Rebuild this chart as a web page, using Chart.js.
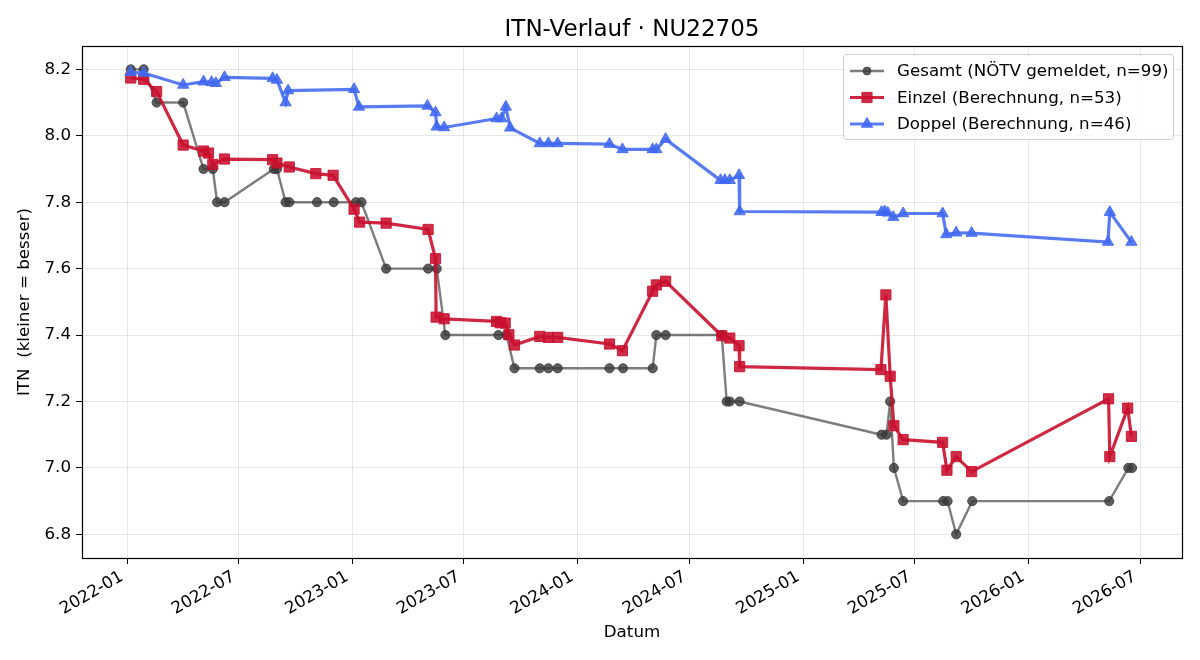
<!DOCTYPE html>
<html lang="de">
  <head>
    <meta charset="UTF-8" />
    <title>ITN-Verlauf · NU22705</title>
    <script src="https://cdn.jsdelivr.net/npm/chart.js"></script>
    <style>
      html, body { margin: 0; padding: 0; background: #fff; }
      canvas { display: block; }
    </style>
  </head>
  <body>
    <canvas id="itnChart" width="1200" height="660"></canvas>

    <script>
      // Gesamt (NÖTV gemeldet)
      const gesamtDates = [
        "2022-01-07", "2022-01-28", "2022-02-18", "2022-04-02", "2022-05-05", "2022-05-20",
        "2022-05-27", "2022-06-08", "2022-08-27", "2022-09-01", "2022-09-15", "2022-09-21",
        "2022-11-05", "2022-12-02", "2023-01-07", "2023-01-16", "2023-02-25", "2023-05-04",
        "2023-05-18", "2023-06-01", "2023-08-26", "2023-09-08", "2023-09-21", "2023-11-01",
        "2023-11-15", "2023-11-30", "2024-02-22", "2024-03-15", "2024-05-02", "2024-05-08",
        "2024-05-23", "2024-08-22", "2024-08-30", "2024-09-04", "2024-09-20", "2025-05-08",
        "2025-05-16", "2025-05-22", "2025-05-28", "2025-06-12", "2025-08-16", "2025-08-23",
        "2025-09-06", "2025-10-02", "2026-05-12", "2026-06-12", "2026-06-18"
      ];
      const gesamtValues = [
        8.2, 8.2, 8.1, 8.1, 7.9, 7.9,
        7.8, 7.8, 7.9, 7.9, 7.8, 7.8,
        7.8, 7.8, 7.8, 7.8, 7.6, 7.6,
        7.6, 7.4, 7.4, 7.4, 7.3, 7.3,
        7.3, 7.3, 7.3, 7.3, 7.3, 7.4,
        7.4, 7.4, 7.2, 7.2, 7.2, 7.1,
        7.1, 7.2, 7.0, 6.9, 6.9, 6.9,
        6.8, 6.9, 6.9, 7.0, 7.0
      ];

      // Einzel (Berechnung)
      const einzelDates = [
        "2022-01-07", "2022-01-28", "2022-02-18", "2022-04-02", "2022-05-05", "2022-05-13",
        "2022-05-20", "2022-06-08", "2022-08-25", "2022-09-01", "2022-09-21", "2022-11-03",
        "2022-12-01", "2023-01-04", "2023-01-13", "2023-02-25", "2023-05-04", "2023-05-16",
        "2023-05-17", "2023-05-30", "2023-08-23", "2023-08-29", "2023-09-06", "2023-09-12",
        "2023-09-21", "2023-11-01", "2023-11-15", "2023-11-30", "2024-02-22", "2024-03-14",
        "2024-05-02", "2024-05-08", "2024-05-23", "2024-08-22", "2024-09-04", "2024-09-19",
        "2024-09-20", "2025-05-07", "2025-05-15", "2025-05-22", "2025-05-28", "2025-06-12",
        "2025-08-15", "2025-08-22", "2025-09-06", "2025-10-01", "2026-05-11", "2026-05-13",
        "2026-06-11", "2026-06-17"
      ];
      const einzelValues = [
        8.174, 8.170, 8.133, 7.972, 7.954, 7.948,
        7.914, 7.930, 7.928, 7.918, 7.906, 7.886,
        7.881, 7.779, 7.740, 7.737, 7.718, 7.630,
        7.454, 7.449, 7.441, 7.437, 7.436, 7.401,
        7.370, 7.396, 7.393, 7.393, 7.373, 7.353,
        7.532, 7.551, 7.562, 7.398, 7.391, 7.368,
        7.305, 7.296, 7.521, 7.276, 7.127, 7.085,
        7.077, 6.993, 7.034, 6.989, 7.208, 7.034,
        7.180, 7.095
      ];

      // Doppel (Berechnung)
      const doppelDates = [
        "2022-01-07", "2022-01-28", "2022-04-02", "2022-05-05", "2022-05-18", "2022-05-25",
        "2022-06-08", "2022-08-25", "2022-09-01", "2022-09-15", "2022-09-19", "2023-01-04",
        "2023-01-12", "2023-05-03", "2023-05-16", "2023-05-18", "2023-05-30", "2023-08-23",
        "2023-08-31", "2023-09-07", "2023-09-14", "2023-11-01", "2023-11-15", "2023-11-30",
        "2024-02-22", "2024-03-14", "2024-05-02", "2024-05-08", "2024-05-23", "2024-08-20",
        "2024-08-27", "2024-09-04", "2024-09-19", "2024-09-20", "2025-05-08", "2025-05-13",
        "2025-05-18", "2025-05-27", "2025-06-12", "2025-08-15", "2025-08-21", "2025-09-06",
        "2025-10-01", "2026-05-10", "2026-05-13", "2026-06-17"
      ];
      const doppelValues = [
        8.191, 8.189, 8.153, 8.163, 8.161, 8.158,
        8.176, 8.173, 8.168, 8.100, 8.136, 8.140,
        8.087, 8.090, 8.070, 8.027, 8.025, 8.052,
        8.052, 8.087, 8.024, 7.977, 7.977, 7.977,
        7.975, 7.959, 7.959, 7.959, 7.990, 7.866,
        7.866, 7.866, 7.881, 7.772, 7.770, 7.772,
        7.768, 7.755, 7.766, 7.766, 7.703, 7.708,
        7.707, 7.680, 7.770, 7.680
      ];

      // Achsen
      const xTickDates = [
        "2022-01-01", "2022-07-01", "2023-01-01", "2023-07-01", "2024-01-01",
        "2024-07-01", "2025-01-01", "2025-07-01", "2026-01-01", "2026-07-01"
      ];
      const yTicks = [6.8, 7.0, 7.2, 7.4, 7.6, 7.8, 8.0, 8.2];
      const xRange = ["2021-10-20", "2026-09-07"];
      const yRange = [6.7288, 8.2703];

      const seriesLabels = [
        "Gesamt (NÖTV gemeldet, n=99)",
        "Einzel (Berechnung, n=53)",
        "Doppel (Berechnung, n=46)",
      ];

      const FONT = "'DejaVu Sans', 'Noto Sans', sans-serif";
      const FS = 16.7;

      function toPoints(dates, values) {
        return dates.map((d, i) => ({ x: Date.parse(d), y: values[i] }));
      }

      function fmtMonth(ms) {
        const d = new Date(ms);
        const m = String(d.getUTCMonth() + 1).padStart(2, "0");
        return d.getUTCFullYear() + "-" + m;
      }

      const styles = [
        { line: "rgba(64,64,64,0.68)", point: "rgba(58,58,58,0.82)", shape: "circle", r: 4.6, w: 2.4 },
        { line: "rgba(200,16,46,0.9)", point: "rgba(200,16,46,0.88)", shape: "rect", r: 7.2, w: 3.2 },
        { line: "rgba(65,105,240,0.88)", point: "rgba(65,105,240,0.88)", shape: "triangle", r: 6.5, w: 3.2 },
      ];

      // Rahmen, Titel und Legende im matplotlib-Stil
      const decorPlugin = {
        id: "decor",
        afterDraw(chart) {
          const ctx = chart.ctx;
          const a = chart.chartArea;
          ctx.save();

          // Rahmen
          ctx.strokeStyle = "#000";
          ctx.lineWidth = 1.2;
          ctx.strokeRect(a.left + 0.5, a.top + 0.5, a.right - a.left, a.bottom - a.top);

          // Titel
          ctx.fillStyle = "#000";
          ctx.font = "23px " + FONT;
          ctx.textAlign = "center";
          ctx.textBaseline = "alphabetic";
          ctx.fillText("ITN-Verlauf · NU22705", (a.left + a.right) / 2, 36);

          // Legende
          const bx = 843, by = 54, bw = 330, bh = 85;
          ctx.fillStyle = "rgba(255,255,255,0.8)";
          ctx.strokeStyle = "#cccccc";
          ctx.lineWidth = 1;
          ctx.beginPath();
          ctx.roundRect(bx + 0.5, by + 0.5, bw, bh, 3);
          ctx.fill();
          ctx.stroke();

          ctx.font = FS + "px " + FONT;
          ctx.textAlign = "left";
          ctx.textBaseline = "middle";
          seriesLabels.forEach((label, i) => {
            const y = 71 + i * 26.5;
            const s = styles[i];
            ctx.strokeStyle = s.line;
            ctx.lineWidth = s.w;
            ctx.beginPath();
            ctx.moveTo(850, y);
            ctx.lineTo(884, y);
            ctx.stroke();
            ctx.fillStyle = s.point;
            ctx.strokeStyle = s.point;
            ctx.lineWidth = 1;
            Chart.helpers.drawPoint(ctx, {
              pointStyle: s.shape,
              radius: s.shape === "circle" ? s.r * 0.85 : s.r,
              rotation: 0,
              borderWidth: 1,
            }, 867, y);
            ctx.fillStyle = "#000";
            ctx.fillText(label, 897, y + 1);
          });

          ctx.restore();
        },
      };

      const datasetsRaw = [
        [gesamtDates, gesamtValues],
        [einzelDates, einzelValues],
        [doppelDates, doppelValues],
      ];

      const datasets = datasetsRaw.map(([dates, values], i) => {
        const s = styles[i];
        return {
          label: seriesLabels[i],
          data: toPoints(dates, values),
          borderColor: s.line,
          backgroundColor: s.point,
          borderWidth: s.w,
          pointStyle: s.shape,
          pointRadius: s.r,
          pointHoverRadius: s.r,
          pointBackgroundColor: s.point,
          pointBorderColor: s.point,
          pointBorderWidth: 1,
          tension: 0,
          fill: false,
          order: 3 - i,
        };
      });

      new Chart(document.getElementById("itnChart"), {
        type: "line",
        data: { datasets },
        options: {
          responsive: false,
          animation: false,
          devicePixelRatio: 1,
          layout: { padding: { top: 46, right: 18, left: 0, bottom: 0 } },
          plugins: {
            legend: { display: false },
            title: { display: false },
            tooltip: { enabled: false },
          },
          scales: {
            x: {
              type: "linear",
              min: Date.parse(xRange[0]),
              max: Date.parse(xRange[1]),
              afterBuildTicks: (scale) => {
                scale.ticks = xTickDates.map((d) => ({ value: Date.parse(d) }));
              },
              afterFit: (scale) => { scale.height = 102; },
              border: { display: false },
              grid: {
                color: "rgba(176,176,176,0.3)",
                tickColor: "#000",
                tickLength: 6,
                lineWidth: 1,
              },
              ticks: {
                autoSkip: false,
                maxRotation: 30,
                minRotation: 30,
                padding: 3,
                labelOffset: -5,
                color: "#000",
                font: { family: FONT, size: FS },
                callback: (v) => fmtMonth(v),
              },
              title: {
                display: true,
                text: "Datum",
                color: "#000",
                font: { family: FONT, size: FS },
                padding: { top: 0, bottom: 17 },
              },
            },
            y: {
              type: "linear",
              min: yRange[0],
              max: yRange[1],
              afterBuildTicks: (scale) => {
                scale.ticks = yTicks.map((v) => ({ value: v }));
              },
              afterFit: (scale) => { scale.width = 82; },
              border: { display: false },
              grid: {
                color: "rgba(176,176,176,0.3)",
                tickColor: "#000",
                tickLength: 6,
                lineWidth: 1,
              },
              ticks: {
                padding: 5,
                color: "#000",
                font: { family: FONT, size: FS },
                callback: (v) => v.toFixed(1),
              },
              title: {
                display: true,
                text: "ITN  (kleiner = besser)",
                color: "#000",
                font: { family: FONT, size: FS },
                padding: { top: 15, bottom: 0 },
              },
            },
          },
        },
        plugins: [decorPlugin],
      });
    </script>
  </body>
</html>
